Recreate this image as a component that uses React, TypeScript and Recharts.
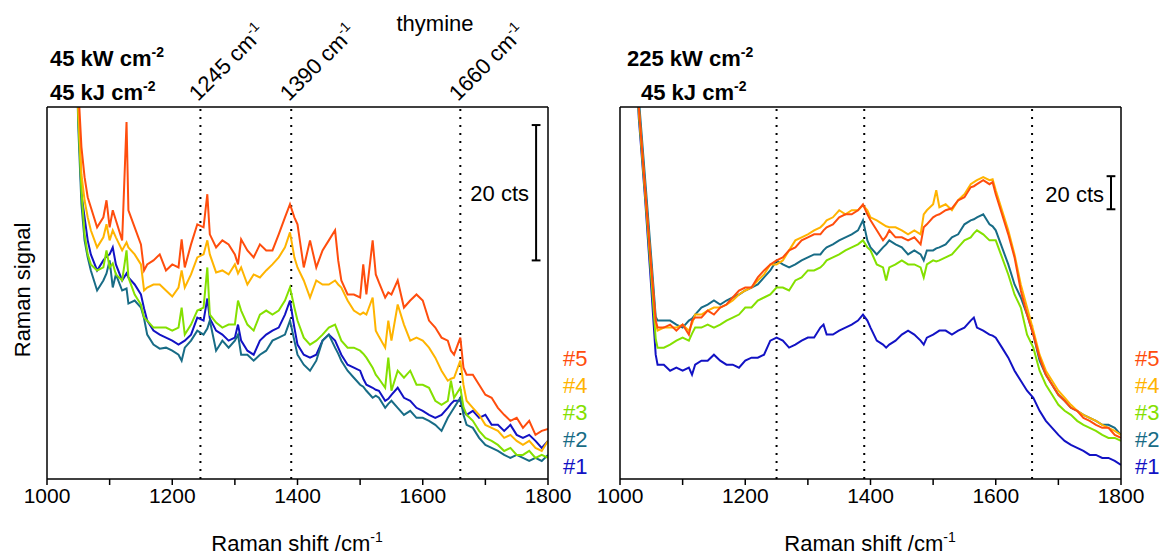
import { LineChart, Line, XAxis, YAxis, ReferenceLine } from 'recharts';

const FONT = '"Liberation Sans", Arial, sans-serif';

const xTicks = [1000, 1100, 1200, 1300, 1400, 1500, 1600, 1700, 1800];
const sampleLabels = ['#5', '#4', '#3', '#2', '#1'];
const sampleColors = ['#ff4d0d', '#ffb400', '#84e000', '#186c86', '#1212c4'];

// 45 kW cm-2 panel (signal in plot pixels above the baseline, 20 cts = 135)
const leftShift = [
  1045, 1050, 1055, 1060, 1065, 1070, 1080, 1090, 1095, 1100,
  1105, 1110, 1120, 1127, 1130, 1140, 1150, 1155, 1160, 1170,
  1180, 1190, 1200, 1210, 1215, 1220, 1230, 1240, 1250, 1256,
  1260, 1270, 1280, 1290, 1300, 1305, 1310, 1320, 1330, 1340,
  1350, 1360, 1370, 1380, 1388, 1395, 1400, 1410, 1420, 1430,
  1440, 1450, 1460, 1465, 1470, 1480, 1490, 1500, 1505, 1510,
  1520, 1525, 1530, 1540, 1545, 1550, 1560, 1570, 1580, 1590,
  1600, 1610, 1620, 1630, 1640, 1645, 1650, 1660, 1665, 1670,
  1680, 1690, 1700, 1710, 1720, 1730, 1740, 1750, 1760, 1770,
  1780, 1790, 1800,
];
const left5 = [
  480, 390, 331, 301, 281, 271, 251, 261, 278, 251,
  268, 258, 238, 356, 268, 251, 234, 208, 214, 218,
  224, 208, 214, 211, 239, 211, 234, 254, 251, 284,
  244, 231, 238, 234, 224, 214, 239, 228, 221, 234,
  228, 228, 244, 261, 274, 261, 254, 211, 238, 211,
  228, 238, 248, 218, 198, 184, 184, 181, 214, 184,
  238, 204, 196, 181, 186, 184, 198, 171, 178, 184,
  178, 158, 151, 141, 138, 128, 124, 141, 111, 104,
  104, 94, 84, 81, 71, 64, 58, 61, 51, 58,
  44, 48, 50,
];
const left4 = [
  480, 370, 304, 278, 261, 248, 231, 241, 254, 238,
  248, 241, 228, 236, 231, 224, 214, 188, 191, 194,
  194, 188, 182, 191, 208, 191, 204, 221, 224, 238,
  224, 206, 208, 204, 214, 205, 211, 194, 204, 201,
  208, 214, 221, 231, 246, 221, 211, 198, 181, 198,
  194, 194, 198, 194, 191, 178, 168, 164, 166, 164,
  181, 148, 142, 131, 158, 138, 174, 154, 138, 141,
  138, 131, 121, 108, 98, 100, 101, 118, 94, 78,
  71, 64, 54, 51, 48, 41, 44, 38, 34, 38,
  31, 28, 38,
];
const left3 = [
  480, 360, 288, 244, 224, 214, 208, 211, 228, 211,
  215, 204, 198, 228, 201, 184, 174, 161, 158, 151,
  151, 151, 148, 151, 171, 144, 154, 168, 171, 211,
  164, 156, 151, 154, 154, 178, 168, 154, 148, 164,
  168, 164, 168, 178, 191, 171, 158, 141, 134, 138,
  144, 151, 154, 146, 138, 131, 131, 128, 125, 121,
  111, 104, 100, 91, 121, 88, 108, 101, 108, 94,
  94, 91, 78, 74, 78, 98, 81, 91, 72, 64,
  58, 48, 41, 38, 34, 28, 31, 24, 24, 28,
  21, 24, 21,
];
const left2 = [
  480, 350, 274, 238, 221, 208, 188, 198, 205, 218,
  191, 204, 188, 190, 175, 178, 171, 160, 144, 134,
  130, 131, 128, 124, 118, 131, 138, 148, 144, 150,
  158, 128, 138, 131, 138, 144, 124, 124, 118, 124,
  128, 138, 141, 144, 158, 138, 124, 114, 108, 118,
  138, 144, 131, 125, 118, 108, 101, 94, 92, 88,
  81, 83, 81, 71, 75, 78, 71, 64, 68, 61,
  61, 58, 54, 48, 61, 66, 71, 81, 64, 54,
  51, 41, 34, 31, 28, 24, 21, 24, 21, 18,
  21, 18, 24,
];
const left1 = [
  480, 370, 284, 261, 238, 224, 208, 218, 222, 224,
  231, 214, 198, 205, 201, 194, 184, 170, 158, 148,
  144, 141, 138, 134, 136, 138, 144, 161, 158, 180,
  160, 148, 144, 138, 141, 154, 138, 128, 124, 138,
  144, 148, 151, 164, 178, 151, 134, 124, 121, 124,
  138, 144, 138, 131, 124, 114, 111, 108, 100, 94,
  91, 89, 88, 78, 80, 84, 91, 81, 78, 71,
  68, 64, 61, 64, 71, 75, 78, 78, 68, 64,
  68, 61, 64, 54, 54, 48, 54, 44, 41, 44,
  38, 31, 38,
];

// 225 kW cm-2 panel (20 cts = 32)
const rightShift = [
  1025, 1030, 1040, 1050, 1057, 1060, 1070, 1080, 1090, 1100,
  1110, 1115, 1120, 1130, 1140, 1150, 1160, 1170, 1180, 1190,
  1200, 1210, 1220, 1230, 1240, 1250, 1260, 1270, 1280, 1290,
  1300, 1310, 1320, 1325, 1330, 1340, 1350, 1360, 1370, 1380,
  1388, 1395, 1400, 1410, 1420, 1425, 1430, 1440, 1450, 1460,
  1470, 1480, 1485, 1490, 1500, 1505, 1510, 1520, 1530, 1540,
  1550, 1560, 1565, 1570, 1580, 1590, 1595, 1600, 1610, 1620,
  1630, 1640, 1650, 1660, 1670, 1680, 1690, 1700, 1710, 1720,
  1730, 1740, 1750, 1760, 1770, 1780, 1790, 1800,
];
const right5 = [
  430, 371, 290, 210, 158, 151, 151, 154, 148, 154,
  144, 158, 161, 161, 168, 164, 171, 174, 181, 188,
  191, 191, 201, 208, 214, 218, 221, 228, 231, 238,
  241, 244, 244, 248, 251, 254, 261, 264, 264, 268,
  274, 264, 258, 248, 238, 242, 248, 241, 241, 238,
  241, 234, 251, 254, 261, 263, 264, 268, 270, 278,
  281, 291, 292, 294, 298, 294, 296, 284, 264, 244,
  221, 188, 164, 144, 121, 104, 94, 84, 78, 71,
  68, 61, 58, 54, 51, 51, 44, 41,
];
const right4 = [
  430, 371, 290, 210, 155, 148, 151, 151, 151, 154,
  148, 155, 164, 164, 168, 171, 171, 174, 178, 184,
  188, 191, 198, 204, 214, 214, 218, 228, 238, 241,
  244, 248, 251, 254, 258, 261, 268, 264, 268, 268,
  273, 268, 261, 258, 254, 252, 251, 251, 248, 244,
  248, 244, 264, 268, 274, 288, 271, 274, 268, 278,
  284, 294, 296, 298, 301, 298, 299, 288, 268, 248,
  224, 194, 171, 148, 124, 108, 98, 88, 81, 74,
  68, 64, 61, 58, 54, 51, 48, 44,
];
const right3 = [
  420, 365, 285, 200, 140, 131, 131, 134, 138, 141,
  138, 145, 151, 151, 154, 151, 154, 158, 161, 164,
  171, 171, 178, 181, 184, 191, 191, 188, 198, 201,
  208, 208, 211, 214, 218, 221, 224, 228, 231, 234,
  238, 231, 228, 214, 211, 198, 211, 214, 218, 214,
  214, 211, 201, 214, 218, 217, 218, 221, 224, 231,
  238, 241, 245, 248, 244, 238, 238, 238, 221, 204,
  184, 171, 144, 131, 108, 94, 84, 74, 68, 64,
  58, 54, 51, 48, 44, 41, 41, 38,
];
const right2 = [
  440, 380, 300, 220, 162, 158, 158, 158, 154, 151,
  158, 160, 164, 171, 174, 178, 174, 178, 181, 184,
  188, 191, 194, 201, 208, 218, 214, 211, 214, 218,
  221, 224, 224, 228, 231, 234, 238, 241, 244, 248,
  258, 238, 231, 224, 231, 234, 238, 234, 231, 224,
  228, 224, 218, 228, 228, 230, 231, 234, 241, 244,
  254, 258, 259, 261, 264, 254, 252, 248, 231, 214,
  194, 181, 164, 144, 118, 104, 94, 84, 78, 71,
  68, 64, 61, 58, 54, 54, 51, 44,
];
const right1 = [
  420, 360, 280, 190, 124, 114, 114, 108, 111, 108,
  111, 104, 114, 118, 118, 124, 118, 114, 114, 111,
  118, 121, 121, 124, 138, 141, 138, 131, 134, 138,
  141, 141, 151, 154, 144, 144, 148, 151, 154, 158,
  164, 158, 151, 138, 134, 131, 134, 138, 144, 148,
  144, 138, 134, 141, 144, 146, 148, 148, 144, 148,
  151, 158, 161, 151, 148, 144, 143, 141, 131, 121,
  108, 98, 88, 81, 68, 58, 51, 44, 38, 34,
  31, 28, 24, 24, 21, 21, 18, 14,
];

const leftPeaks = [1245, 1390, 1660];
const rightPeaks = [1250, 1390, 1658];

const frame = { stroke: '#000', strokeWidth: 1.5 };

function buildRows(shift: number[], series: number[][]) {
  return shift.map((x, i) => ({
    x,
    s5: series[0][i],
    s4: series[1][i],
    s3: series[2][i],
    s2: series[3][i],
    s1: series[4][i],
  }));
}

interface PanelProps {
  left: number;
  shift: number[];
  series: number[][];
  peaks: number[];
  bar: { x: number; y0: number; y1: number };
}

function SpectrumPanel({ left, shift, series, peaks, bar }: PanelProps) {
  const rows = buildRows(shift, series);
  // draw #1 first so #5 ends up on top
  const keys = ['s1', 's2', 's3', 's4', 's5'];
  const colors = [...sampleColors].reverse();
  return (
    <div style={{ position: 'absolute', left, top: 0 }}>
      <LineChart
        width={590}
        height={555}
        data={rows}
        margin={{ top: 107, right: 41, bottom: 36, left: 46 }}
      >
        <XAxis
          dataKey="x"
          type="number"
          domain={[1000, 1800]}
          ticks={xTicks}
          interval={0}
          allowDataOverflow
          tickFormatter={(v: number) => (v % 200 === 0 ? String(v) : '')}
          tickSize={6}
          tickMargin={3}
          height={40}
          axisLine={frame}
          tickLine={frame}
          tick={{ fill: '#000', fontSize: 21, fontFamily: FONT }}
        />
        <XAxis
          xAxisId="top"
          orientation="top"
          type="number"
          domain={[1000, 1800]}
          ticks={xTicks}
          interval={0}
          mirror
          tickSize={6}
          tickFormatter={() => ''}
          height={1}
          axisLine={frame}
          tickLine={frame}
        />
        <YAxis
          type="number"
          domain={[0, 371]}
          allowDataOverflow
          tick={false}
          tickLine={false}
          width={1}
          axisLine={frame}
        />
        <YAxis
          yAxisId="right"
          orientation="right"
          type="number"
          domain={[0, 371]}
          tick={false}
          tickLine={false}
          width={1}
          axisLine={frame}
        />
        {peaks.map((p) => (
          <ReferenceLine key={p} x={p} stroke="#000" strokeWidth={2} strokeDasharray="2 6" />
        ))}
        <ReferenceLine
          segment={[{ x: bar.x, y: bar.y0 }, { x: bar.x, y: bar.y1 }]}
          stroke="#000"
          strokeWidth={2}
        />
        <ReferenceLine
          segment={[{ x: bar.x - 7, y: bar.y0 }, { x: bar.x + 7, y: bar.y0 }]}
          stroke="#000"
          strokeWidth={2}
        />
        <ReferenceLine
          segment={[{ x: bar.x - 7, y: bar.y1 }, { x: bar.x + 7, y: bar.y1 }]}
          stroke="#000"
          strokeWidth={2}
        />
        {keys.map((k, i) => (
          <Line
            key={k}
            dataKey={k}
            type="linear"
            stroke={colors[i]}
            strokeWidth={2}
            dot={false}
            isAnimationActive={false}
          />
        ))}
      </LineChart>
    </div>
  );
}

function Sup({ children }: { children: string }) {
  return (
    <tspan dy={-9} fontSize={14}>
      {children}
    </tspan>
  );
}

function PeakLabel({ x, text }: { x: number; text: string }) {
  return (
    <text transform={`translate(${x},102) rotate(-45)`} fontSize={22}>
      {text}
      <Sup>-1</Sup>
    </text>
  );
}

export default function App() {
  return (
    <div
      style={{
        position: 'absolute',
        left: 0,
        top: 0,
        width: 1163,
        height: 555,
        overflow: 'hidden',
        background: '#fff',
        fontFamily: FONT,
      }}
    >
      <SpectrumPanel
        left={0}
        shift={leftShift}
        series={[left5, left4, left3, left2, left1]}
        peaks={leftPeaks}
        bar={{ x: 1781, y0: 218, y1: 353 }}
      />
      <SpectrumPanel
        left={573}
        shift={rightShift}
        series={[right5, right4, right3, right2, right1]}
        peaks={rightPeaks}
        bar={{ x: 1784, y0: 269, y1: 302 }}
      />
      <svg
        width={1163}
        height={555}
        style={{ position: 'absolute', left: 0, top: 0, pointerEvents: 'none' }}
        fontFamily={FONT}
        fill="#000"
      >
        <text x={50} y={66} fontSize={22} fontWeight="bold">
          45 kW cm<Sup>-2</Sup>
        </text>
        <text x={50} y={100} fontSize={22} fontWeight="bold">
          45 kJ cm<Sup>-2</Sup>
        </text>
        <text x={627} y={66} fontSize={22} fontWeight="bold">
          225 kW cm<Sup>-2</Sup>
        </text>
        <text x={641} y={100} fontSize={22} fontWeight="bold">
          45 kJ cm<Sup>-2</Sup>
        </text>
        <text x={435} y={31} fontSize={22} textAnchor="middle">
          thymine
        </text>
        <PeakLabel x={198} text="1245 cm" />
        <PeakLabel x={289} text="1390 cm" />
        <PeakLabel x={458} text="1660 cm" />
        <text x={529} y={201} fontSize={22} textAnchor="end">
          20 cts
        </text>
        <text x={1104} y={202} fontSize={22} textAnchor="end">
          20 cts
        </text>
        <text x={297} y={551} fontSize={22} textAnchor="middle">
          Raman shift /cm<Sup>-1</Sup>
        </text>
        <text x={870} y={551} fontSize={22} textAnchor="middle">
          Raman shift /cm<Sup>-1</Sup>
        </text>
        <text transform="translate(30,290) rotate(-90)" fontSize={22} textAnchor="middle">
          Raman signal
        </text>
        {sampleLabels.map((s, i) => (
          <text key={'l' + s} x={563} y={366 + i * 27} fontSize={22} fill={sampleColors[i]}>
            {s}
          </text>
        ))}
        {sampleLabels.map((s, i) => (
          <text key={'r' + s} x={1135} y={366 + i * 27} fontSize={22} fill={sampleColors[i]}>
            {s}
          </text>
        ))}
      </svg>
    </div>
  );
}
